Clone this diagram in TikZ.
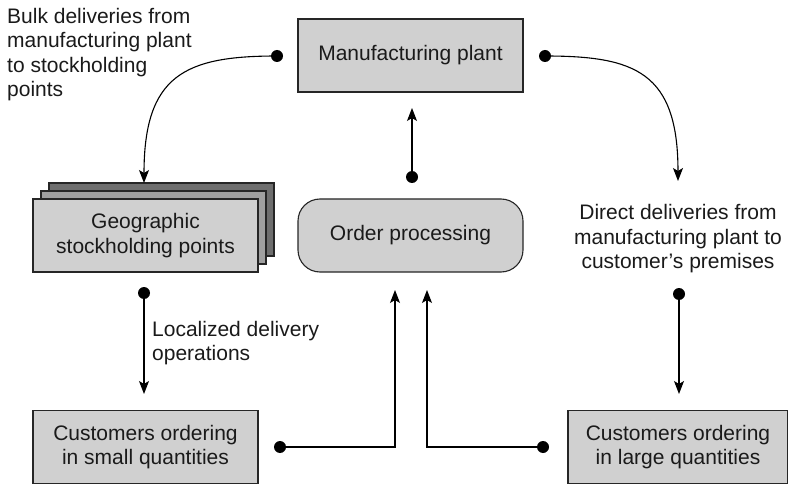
\documentclass[tikz,border=0pt]{standalone}
\usepackage{fontspec}
\setmainfont{Liberation Sans}
\usetikzlibrary{arrows.meta,calc}
\definecolor{boxgray}{HTML}{D0D0D0}
\definecolor{midgray}{HTML}{A0A0A0}
\definecolor{darkgray2}{HTML}{6E6E6E}
\definecolor{txt}{HTML}{1A1A1A}
\tikzset{
  boxnode/.style={draw=black!85, line width=1.1pt, fill=boxgray, minimum width=225pt, minimum height=73pt, inner sep=0pt, align=center, text=txt},
  roundbox/.style={boxnode, rounded corners=22pt},
  lbl/.style={text=txt, inner sep=0pt},
  conn/.style={line width=1.1pt, black},
  arr/.style={conn, -{Stealth[length=13pt,width=10pt,inset=3pt]}},
  dotmark/.style={circle, fill=black, inner sep=0pt, minimum size=12pt},
}
\begin{document}
\begin{tikzpicture}[x=1pt,y=-1pt, font=\fontsize{21}{24.5}\selectfont]
\useasboundingbox (0,0) rectangle (788,484);

% main boxes
\node[boxnode] (mp) at (410.5,55.5) {Manufacturing plant};
\node[roundbox] (op) at (410.5,235.5) {Order processing};
\node[boxnode, fill=darkgray2] (geoback) at (161.5,219.5) {};
\node[boxnode, fill=midgray] (geomid) at (153.5,227.5) {};
\node[boxnode] (geo) at (145.5,235.5) {Geographic\\stockholding points};
\node[boxnode] (cs) at (145.5,447) {Customers ordering\\in small quantities};
\node[boxnode, minimum width=220pt] (cl) at (678,447) {Customers ordering\\in large quantities};

% labels
\node[lbl, anchor=north west, align=left] (bulk) at (7,8) {Bulk deliveries from\\manufacturing plant\\to stockholding\\points};
\node[lbl, align=center] (direct) at (678,239) {Direct deliveries from\\manufacturing plant to\\customer’s premises};
\node[lbl, anchor=west, align=left] (local) at (152,343) {Localized delivery\\operations};

% dots
\node[dotmark] (dl) at (277,56) {};
\node[dotmark] (dr) at (545,56) {};
\node[dotmark] (dm) at (412,177) {};
\node[dotmark] (dg) at (144,293) {};
\node[dotmark] (dd) at (679,294) {};
\node[dotmark] (ds) at (280,447) {};
\node[dotmark] (dc) at (543,447) {};

% targets
\coordinate (tg) at (144,183);
\coordinate (tdirect) at (678,181);
\coordinate (tmp) at (412,108);
\coordinate (tcs) at (144,394);
\coordinate (tcl) at (679,394);
\coordinate (tol) at (395,290);
\coordinate (tor) at (427,290);

% connectors
\draw[arr] (dl.center) .. controls (185,56) and (144,75) .. (tg);
\draw[arr] (dr.center) .. controls (635,56) and (678,72) .. (tdirect);
\draw[arr] (dm.center) -- (tmp);
\draw[arr] (dg.center) -- (tcs);
\draw[arr] (dd.center) -- (tcl);
\draw[arr] (ds.center) -| (tol);
\draw[arr] (dc.center) -| (tor);
\end{tikzpicture}
\end{document}
